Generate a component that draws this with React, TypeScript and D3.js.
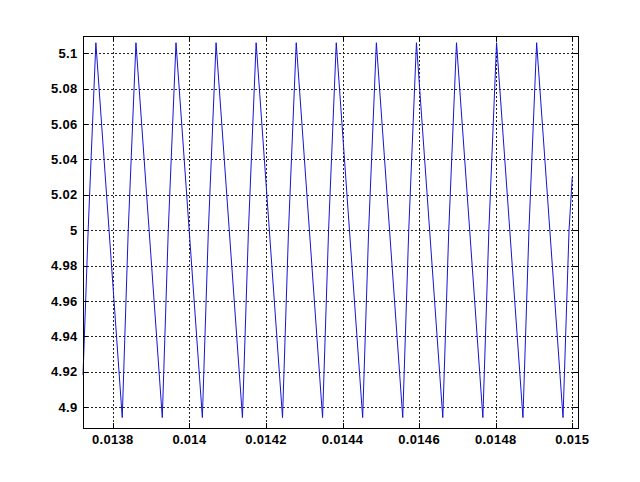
import React from "react";
import * as d3 from "d3";

// Vertices of the waveform (time in s, value)
const time = [
  0.013722, 0.0137355, 0.0137556,
  0.0138245, 0.0138402, 0.0138603,
  0.0139291, 0.0139448, 0.0139649,
  0.0140338, 0.0140495, 0.0140696,
  0.0141385, 0.0141542, 0.0141743,
  0.0142432, 0.0142589, 0.014279,
  0.0143478, 0.0143635, 0.0143836,
  0.0144525, 0.0144682, 0.0144883,
  0.0145572, 0.0145729, 0.014593,
  0.0146618, 0.0146775, 0.0146976,
  0.0147665, 0.0147822, 0.0148023,
  0.0148712, 0.0148869, 0.014907,
  0.0149759, 0.0149916, 0.015,
];
const voltage = [
  4.918, 5.0, 5.106,
  4.894, 5.0, 5.106,
  4.894, 5.0, 5.106,
  4.894, 5.0, 5.106,
  4.894, 5.0, 5.106,
  4.894, 5.0, 5.106,
  4.894, 5.0, 5.106,
  4.894, 5.0, 5.106,
  4.894, 5.0, 5.106,
  4.894, 5.0, 5.106,
  4.894, 5.0, 5.106,
  4.894, 5.0, 5.106,
  4.894, 5.0, 5.03,
];

const xTicks = [0.0138, 0.014, 0.0142, 0.0144, 0.0146, 0.0148, 0.015];
const xTickLabels = ["0.0138", "0.014", "0.0142", "0.0144", "0.0146", "0.0148", "0.015"];
const yTicks = [4.9, 4.92, 4.94, 4.96, 4.98, 5.0, 5.02, 5.04, 5.06, 5.08, 5.1];
const yTickLabels = ["4.9", "4.92", "4.94", "4.96", "4.98", "5", "5.02", "5.04", "5.06", "5.08", "5.1"];

const xDomain = [0.013722, 0.015015];
const yDomain = [4.8881, 5.1098];

export default function App() {
  const W = 640, H = 482;
  const left = 83, right = 578, top = 36, bottom = 428;
  const x = d3.scaleLinear().domain(xDomain).range([left, right]);
  const y = d3.scaleLinear().domain(yDomain).range([bottom, top]);
  const pts: [number, number][] = time.map((t, i) => [t, voltage[i]]);
  const line = d3.line<[number, number]>().x(d => x(d[0])).y(d => y(d[1]));
  const font = "'Liberation Sans', Arial, sans-serif";
  const tickLen = 5;
  return (
    <svg width={W} height={H} style={{ position: "absolute", left: 0, top: 0, background: "#fff" }}>
      <rect x={0} y={0} width={W} height={H} fill="#fff" />
      {/* grid */}
      {xTicks.map((t, i) => (
        <line key={"gx" + i} x1={Math.round(x(t)) + 0.5} x2={Math.round(x(t)) + 0.5} y1={top} y2={bottom}
          stroke="#222" strokeWidth={1} strokeDasharray="2,2" />
      ))}
      {yTicks.map((t, i) => (
        <line key={"gy" + i} x1={left} x2={right} y1={Math.round(y(t)) + 0.5} y2={Math.round(y(t)) + 0.5}
          stroke="#222" strokeWidth={1} strokeDasharray="2,2" />
      ))}
      {/* data */}
      <path d={line(pts) || ""} fill="none" stroke="#1414d8" strokeWidth={1} />
      {/* ticks */}
      {xTicks.map((t, i) => (
        <g key={"tx" + i}>
          <line x1={Math.round(x(t)) + 0.5} x2={Math.round(x(t)) + 0.5} y1={bottom} y2={bottom - tickLen} stroke="#000" />
          <line x1={Math.round(x(t)) + 0.5} x2={Math.round(x(t)) + 0.5} y1={top} y2={top + tickLen} stroke="#000" />
        </g>
      ))}
      {yTicks.map((t, i) => (
        <g key={"ty" + i}>
          <line x1={left} x2={left + tickLen} y1={Math.round(y(t)) + 0.5} y2={Math.round(y(t)) + 0.5} stroke="#000" />
          <line x1={right} x2={right - tickLen} y1={Math.round(y(t)) + 0.5} y2={Math.round(y(t)) + 0.5} stroke="#000" />
        </g>
      ))}
      {/* box */}
      <rect x={left + 0.5} y={top + 0.5} width={right - left} height={bottom - top} fill="none" stroke="#000" strokeWidth={1} />
      {/* labels */}
      {xTicks.map((t, i) => (
        <text key={"lx" + i} x={x(t)} y={444} textAnchor="middle" fontFamily={font} fontSize={13}
          fontWeight="bold" letterSpacing={0.3} fill="#000">{xTickLabels[i]}</text>
      ))}
      {yTicks.map((t, i) => (
        <text key={"ly" + i} x={77.5} y={y(t)} dy="0.36em" textAnchor="end" fontFamily={font} fontSize={13}
          fontWeight="bold" letterSpacing={0.3} fill="#000">{yTickLabels[i]}</text>
      ))}
    </svg>
  );
}
